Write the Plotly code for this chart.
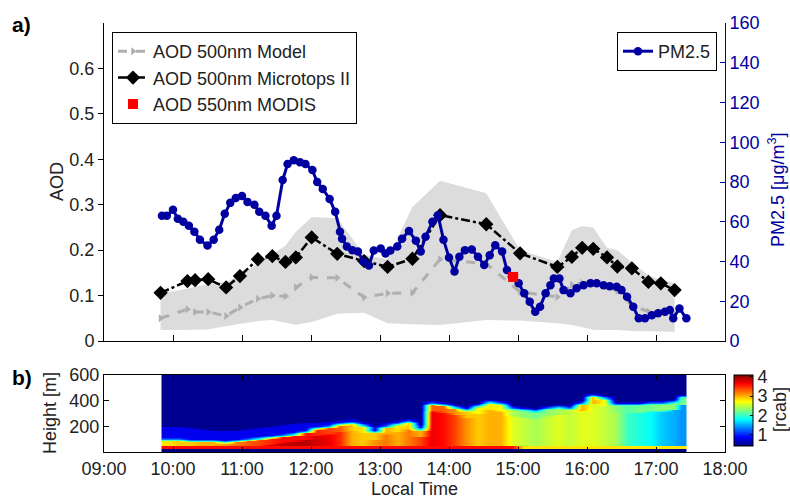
import plotly.graph_objects as go

# ---------------- data ----------------
pm_time = [9.84, 9.91, 10.0, 10.07, 10.15, 10.23, 10.31, 10.39, 10.5, 10.59, 10.67, 10.75, 10.83, 10.91,
           11.0, 11.08, 11.18, 11.25, 11.34, 11.43, 11.5, 11.59, 11.66, 11.75, 11.84, 11.92, 12.02, 12.09,
           12.17, 12.27, 12.35, 12.42, 12.45, 12.52, 12.6, 12.68, 12.76, 12.84, 12.91, 13.01, 13.08, 13.15,
           13.25, 13.32, 13.42, 13.52, 13.59, 13.66, 13.76, 13.84, 13.92, 14.0, 14.08, 14.15, 14.23, 14.33,
           14.42, 14.51, 14.59, 14.67, 14.77, 14.84, 14.91, 15.01, 15.09, 15.17, 15.25, 15.32, 15.4, 15.47,
           15.52, 15.6, 15.66, 15.76, 15.85, 15.95, 16.05, 16.14, 16.24, 16.33, 16.43, 16.5, 16.58, 16.67,
           16.75, 16.84, 16.94, 17.03, 17.13, 17.2, 17.25, 17.34, 17.44]
pm_val = [63, 63, 66, 61.5, 60, 58, 55, 51, 48, 51, 56, 64, 69.5, 72,
          73, 70, 68.5, 65, 63, 58, 63, 81, 89, 91, 90, 89, 86, 80,
          76.5, 71.5, 65, 55, 51.5, 47.5, 45.7, 45, 40, 38, 45.5, 46.5, 44, 45.5,
          47.5, 51.5, 55.4, 50.5, 45, 52.4, 60, 63.3, 51, 42, 35, 42.4, 45.7, 46,
          42.4, 38.2, 43.2, 48.2, 45, 35.7, 32.3, 29, 24, 19.7, 14.7, 17.2, 24, 28,
          31.5, 31.5, 25.6, 24, 26.5, 28, 29, 29, 28, 27.6, 27.3, 25.6, 22.3, 17.2,
          11.4, 11.4, 13, 14, 14.7, 15.6, 11.4, 16.4, 11.4]

mt_time = [9.82, 10.21, 10.32, 10.51, 10.77, 10.97, 11.23, 11.44, 11.63, 11.78, 12.01, 12.38, 12.77, 13.11,
           13.47, 13.87, 14.54, 15.03, 15.57, 15.78, 15.93, 16.09, 16.29, 16.44, 16.65, 16.89, 17.07, 17.27]
mt_aod = [0.106, 0.132, 0.134, 0.136, 0.118, 0.143, 0.18, 0.187, 0.174, 0.184, 0.228, 0.192, 0.176, 0.163,
          0.181, 0.277, 0.257, 0.193, 0.163, 0.185, 0.205, 0.203, 0.184, 0.164, 0.16, 0.13, 0.127, 0.112]
model_aod = [0.05, 0.07, 0.064, 0.064, 0.055, 0.074, 0.093, 0.1, 0.098, 0.118, 0.14, 0.139, 0.096, 0.105,
             0.106, 0.18, 0.17, 0.108, 0.097, 0.124, 0.128, 0.13, 0.12, 0.11, 0.078, 0.065, 0.063, 0.06]
model_max = [0.105, 0.115, 0.12, 0.125, 0.13, 0.145, 0.17, 0.19, 0.21, 0.24, 0.273, 0.27, 0.19, 0.18,
             0.295, 0.353, 0.325, 0.2, 0.174, 0.244, 0.253, 0.25, 0.205, 0.2, 0.173, 0.145, 0.135, 0.127]
model_min = [0.024, 0.024, 0.025, 0.026, 0.032, 0.038, 0.044, 0.046, 0.04, 0.036, 0.042, 0.06, 0.062, 0.039,
             0.037, 0.035, 0.046, 0.045, 0.039, 0.035, 0.03, 0.025, 0.024, 0.024, 0.022, 0.022, 0.021, 0.02]
modis_time = [14.93]
modis_aod = [0.141]

# lidar range-corrected backscatter, 10-min columns
lidar_start = ["09:50", "10:00", "10:10", "10:20", "10:30", "10:40", "10:50", "11:00", "11:10", "11:20",
               "11:30", "11:40", "11:50", "12:00", "12:10", "12:20", "12:30", "12:40", "12:50", "13:00",
               "13:10", "13:20", "13:30", "13:40", "13:50", "14:00", "14:10", "14:20", "14:30", "14:40",
               "14:50", "15:00", "15:10", "15:20", "15:30", "15:40", "15:50", "16:00", "16:10", "16:20",
               "16:30", "16:40", "16:50", "17:00", "17:10", "17:20"]
lidar_end = "17:25"
lidar_top = [100, 100, 95, 90, 88, 80, 95, 105, 115, 125,
             130, 145, 165, 190, 205, 220, 232, 215, 160, 200,
             225, 245, 180, 385, 375, 350, 330, 360, 395, 385,
             340, 330, 325, 345, 355, 340, 385, 445, 420, 375,
             370, 375, 385, 385, 395, 430]
lidar_body = [3.2, 3.3, 3.3, 3.4, 3.4, 3.5, 3.5, 3.6, 3.7, 3.8,
              3.9, 3.9, 3.9, 3.8, 3.7, 3.5, 3.0, 2.9, 3.1, 3.2,
              3.0, 3.2, 3.4, 3.7, 3.6, 3.4, 3.1, 2.9, 3.0, 3.0,
              2.6, 2.5, 2.4, 2.5, 2.6, 2.5, 2.6, 2.6, 2.5, 2.4,
              2.0, 1.9, 1.8, 1.6, 1.5, 1.4]
lidar_upper = [2.8, 2.9, 2.9, 3.0, 3.0, 3.1, 3.2, 3.3, 3.4, 3.5,
               3.6, 3.6, 3.6, 3.5, 3.4, 3.3, 2.9, 2.8, 2.9, 3.0,
               2.8, 2.9, 3.0, 3.3, 3.3, 3.1, 2.9, 2.7, 2.8, 2.7,
               2.4, 2.3, 2.2, 2.3, 2.4, 2.5, 3.0, 3.0, 2.7, 2.3,
               2.1, 2.2, 2.2, 2.3, 2.3, 2.2]
lidar_strip = [3.6] * 31 + [2.8] * 15
lidar_haze = [200, 200, 190, 180, 170, 170, 170, 180, 190, 200,
              210, 220, 230, 230, 240, 250, 260, 240, 200, 230,
              250, 265, 210, 405, 395, 370, 350, 380, 415, 405,
              360, 350, 345, 365, 375, 360, 405, 465, 440, 395,
              390, 395, 405, 405, 415, 450]

hour_ticks = [9, 10, 11, 12, 13, 14, 15, 16, 17, 18]
hour_labels = ["09:00", "10:00", "11:00", "12:00", "13:00", "14:00", "15:00", "16:00", "17:00", "18:00"]
aod_ticks = [0, 0.1, 0.2, 0.3, 0.4, 0.5, 0.6]
aod_labels = ["0", "0.1", "0.2", "0.3", "0.4", "0.5", "0.6"]
pm_ticks = [0, 20, 40, 60, 80, 100, 120, 140, 160]
h_ticks = [200, 400, 600]
cb_ticks = [1, 2, 3, 4]
AOD_RANGE = [0, 0.7]
PM_RANGE = [0, 160]


# ---------------- build lidar grid ----------------
def hh(s):
    a, b = s.split(":")
    return int(a) + int(b) / 60.0


x_edges = [hh(s) for s in lidar_start] + [hh(lidar_end)]
x_cent = [(x_edges[i] + x_edges[i + 1]) / 2 for i in range(len(lidar_start))]
dz = 10
y_edges = list(range(0, 601, dz))
y_cent = [y + dz / 2 for y in y_edges[:-1]]
z = []
for h in y_cent:
    row = []
    for j in range(len(lidar_start)):
        top = lidar_top[j]
        if h < 35:
            v = 0.2
        elif h < 50:
            v = lidar_strip[j]
        elif h < top - 60:
            v = lidar_body[j]
        elif h < top - 10:
            v = lidar_upper[j]
        elif h < top:
            v = 2.0
        elif h < top + 10:
            v = 1.3
        elif h < lidar_haze[j]:
            v = 0.8
        else:
            v = 0.45
        row.append(v)
    z.append(row)

jet = [[0.0, "rgb(0,0,128)"], [0.125, "rgb(0,0,255)"], [0.375, "rgb(0,255,255)"],
       [0.625, "rgb(255,255,0)"], [0.875, "rgb(255,0,0)"], [1.0, "rgb(128,0,0)"]]

W, H = 790, 498
def px(x):
    return x / W
def py(y):
    return (H - y) / H

FONT = "Liberation Sans, Arial, Helvetica, sans-serif"
FS = 18
BLUE = "rgb(0,0,160)"
TXT = "#222"

fig = go.Figure()

# model range band
fig.add_trace(go.Scatter(x=mt_time, y=model_min, mode="lines", line=dict(width=0, color="rgba(0,0,0,0)"),
                         showlegend=False, hoverinfo="skip", xaxis="x", yaxis="y"))
fig.add_trace(go.Scatter(x=mt_time, y=model_max, mode="lines", line=dict(width=0, color="rgba(0,0,0,0)"),
                         fill="tonexty", fillcolor="rgb(220,220,220)",
                         showlegend=False, hoverinfo="skip", xaxis="x", yaxis="y"))
fig.add_trace(go.Scatter(x=mt_time, y=model_aod, mode="lines+markers", name="AOD 500nm Model",
                         line=dict(color="rgb(175,175,175)", width=3, dash="dash"),
                         marker=dict(symbol="triangle-right", size=7, color="rgb(175,175,175)"),
                         xaxis="x", yaxis="y", legend="legend"))
fig.add_trace(go.Scatter(x=mt_time, y=mt_aod, mode="lines+markers", name="AOD 500nm Microtops II",
                         line=dict(color="black", width=2.5, dash="dashdot"),
                         marker=dict(symbol="diamond", size=11, color="black"),
                         xaxis="x", yaxis="y", legend="legend"))
fig.add_trace(go.Scatter(x=pm_time, y=pm_val, mode="lines+markers", name="PM2.5",
                         line=dict(color=BLUE, width=3),
                         marker=dict(symbol="circle", size=8.5, color=BLUE),
                         xaxis="x", yaxis="y2", legend="legend2"))
# MODIS drawn on the overlay axis (scaled by the two axis ranges) so it sits above the PM2.5 line
scale = (PM_RANGE[1] - PM_RANGE[0]) / (AOD_RANGE[1] - AOD_RANGE[0])
fig.add_trace(go.Scatter(x=modis_time, y=[v * scale for v in modis_aod], mode="markers", name="AOD 550nm MODIS",
                         marker=dict(symbol="square", size=10, color="rgb(255,0,0)"),
                         xaxis="x", yaxis="y2", legend="legend"))

fig.add_trace(go.Heatmap(x=x_cent, y=y_cent, z=z, colorscale=jet, zmin=0.4, zmax=4.1, zsmooth="best",
                         xaxis="x2", yaxis="y3", showscale=True,
                         colorbar=dict(x=px(734), xanchor="left", xpad=0, ypad=0,
                                       y=py(375), yanchor="top", len=71 / H, lenmode="fraction",
                                       thickness=19, thicknessmode="pixels",
                                       outlinewidth=1, outlinecolor="black",
                                       tickvals=cb_ticks, ticks="inside", ticklen=3, tickcolor="black",
                                       tickfont=dict(size=FS, color=TXT, family=FONT))))

dom_x = [px(104), px(725)]
fig.update_layout(
    width=W, height=H, margin=dict(l=0, r=0, t=0, b=0, autoexpand=False),
    paper_bgcolor="white", plot_bgcolor="white",
    font=dict(family=FONT, size=FS, color=TXT),
    xaxis=dict(domain=dom_x, anchor="y", range=[9, 18], tickvals=hour_ticks, showticklabels=False,
               ticks="inside", ticklen=6, tickcolor="black", showline=True, linecolor="black",
               showgrid=False, zeroline=False, automargin=False),
    yaxis=dict(domain=[py(341), py(23)], anchor="x", range=AOD_RANGE, tickvals=aod_ticks, ticktext=aod_labels,
               ticks="outside", ticklen=5, tickcolor="black", showline=True, linecolor="black",
               showgrid=False, zeroline=False, tickfont=dict(size=FS, color=TXT), automargin=False),
    yaxis2=dict(overlaying="y", side="right", anchor="x", range=PM_RANGE, tickvals=pm_ticks,
                ticks="inside", ticklen=5, tickcolor=BLUE, showline=True, linecolor=BLUE,
                showgrid=False, zeroline=False, tickfont=dict(size=FS, color=BLUE), automargin=False),
    xaxis2=dict(domain=dom_x, anchor="y3", range=[9, 18], tickvals=hour_ticks, ticktext=hour_labels,
                ticks="inside", ticklen=5, tickcolor="black", showline=True, linecolor="black", mirror="ticks",
                showgrid=False, zeroline=False, tickfont=dict(size=FS, color=TXT), automargin=False),
    yaxis3=dict(domain=[py(452), py(375)], anchor="x2", range=[0, 600], tickvals=h_ticks,
                ticks="inside", ticklen=5, tickcolor="black", showline=True, linecolor="black", mirror="ticks",
                showgrid=False, zeroline=False, tickfont=dict(size=FS, color=TXT), automargin=False),
    legend=dict(x=px(112), y=py(32), xanchor="left", yanchor="top", bgcolor="white",
                bordercolor="black", borderwidth=1, font=dict(size=FS, color=TXT), tracegroupgap=0,
                traceorder="normal"),
    legend2=dict(x=px(717), y=py(32), xanchor="right", yanchor="top", bgcolor="white",
                 bordercolor="black", borderwidth=1, font=dict(size=FS, color=TXT)),
    showlegend=True,
)

annots = [
    dict(text="<b>a)</b>", x=px(10), y=py(25), xanchor="left", yanchor="middle", font=dict(size=21, color="black")),
    dict(text="<b>b)</b>", x=px(10), y=py(377), xanchor="left", yanchor="middle", font=dict(size=21, color="black")),
    dict(text="AOD", x=px(57), y=py(182), textangle=-90, xanchor="center", yanchor="middle",
         font=dict(size=FS, color=TXT)),
    dict(text="PM2.5 [μg/m<sup>3</sup>]", x=px(777), y=py(190), textangle=-90, xanchor="center",
         yanchor="middle", font=dict(size=FS, color=BLUE)),
    dict(text="Height [m]", x=px(50), y=py(413), textangle=-90, xanchor="center", yanchor="middle",
         font=dict(size=FS, color=TXT)),
    dict(text="[rcab]", x=px(780), y=py(410), textangle=-90, xanchor="center", yanchor="middle",
         font=dict(size=FS, color=TXT)),
    dict(text="Local Time", x=px(414), y=py(489), xanchor="center", yanchor="middle",
         font=dict(size=FS, color=TXT)),
]
for a in annots:
    a.update(xref="paper", yref="paper", showarrow=False)
fig.update_layout(annotations=annots)

fig.write_html("out.html", config={"displayModeBar": False},
               post_script="document.documentElement.style.margin='0';"
                           "document.body.style.margin='0';"
                           "document.body.style.overflow='hidden';")
